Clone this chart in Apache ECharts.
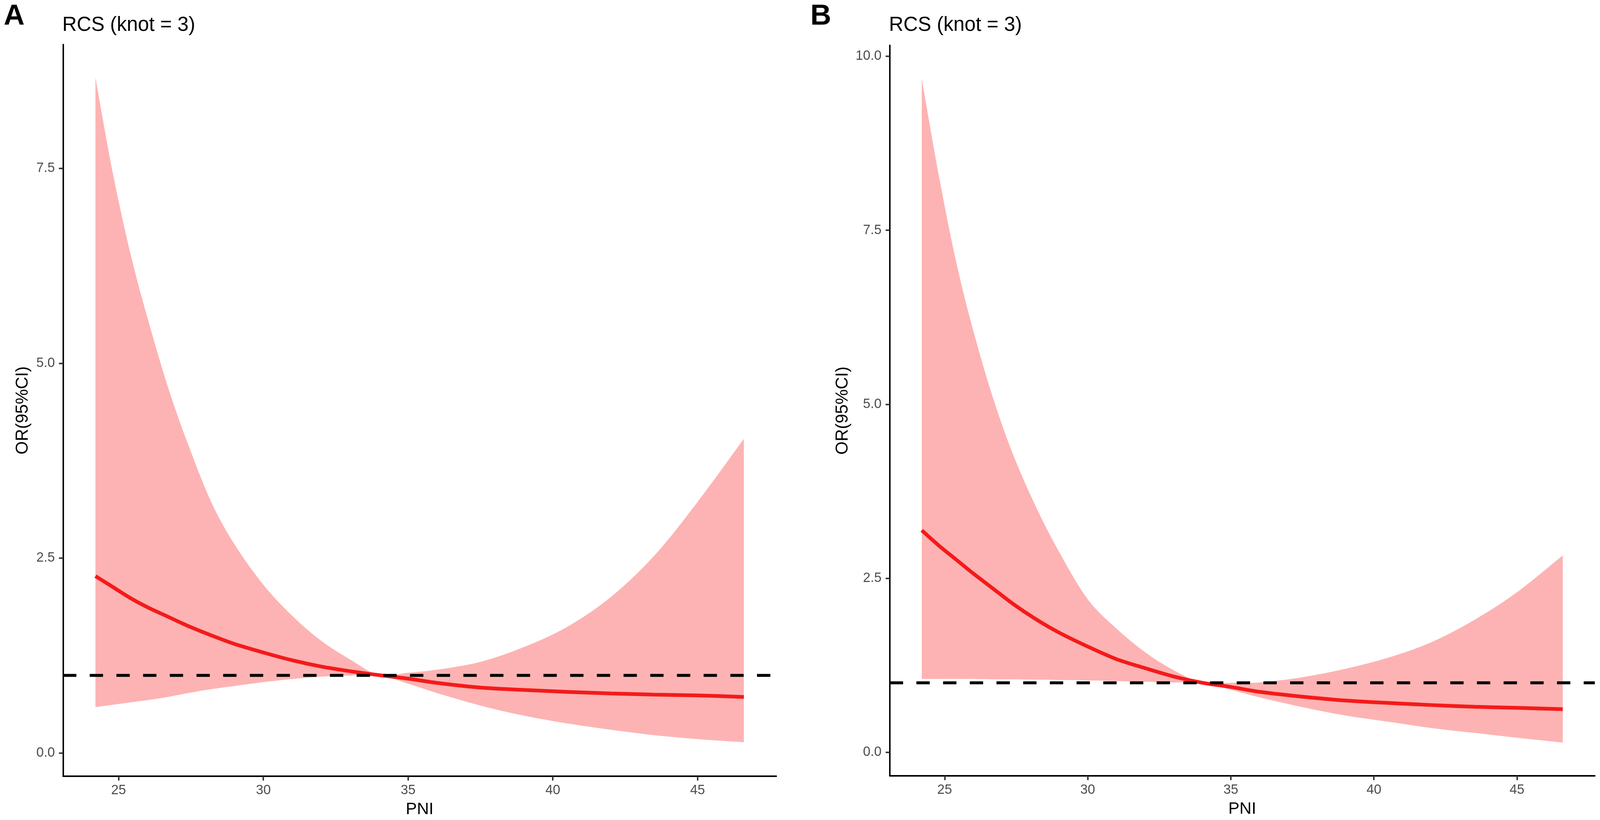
<!DOCTYPE html>
<html lang="en">
<head>
<meta charset="UTF-8">
<title>RCS (knot = 3)</title>
<script src="https://cdn.jsdelivr.net/npm/echarts@6.0.0/dist/echarts.min.js"></script>
<style>
    html, body { margin: 0; padding: 0; background: #fff; width: 100%; height: 100%; overflow: hidden; }
    #main { width: 100vw; height: 100vh; }
</style>
</head>
<body>
<div id="main"></div>
<script>
    var pni = [24.2, 24.8, 25.4, 26.0, 26.7, 27.4, 28.2, 29.0, 30.0, 31.0, 32.0, 33.0, 34.0, 35.0, 36.0, 37.5, 39.0, 40.5, 42.0, 43.5, 45.0, 46.6];

    // panel A
    var orA    = [2.27, 2.13, 1.99, 1.87, 1.75, 1.63, 1.51, 1.40, 1.29, 1.19, 1.11, 1.05, 1.00, 0.955, 0.90, 0.84, 0.81, 0.785, 0.765, 0.75, 0.74, 0.72];
    var upperA = [8.66, 7.44, 6.42, 5.58, 4.70, 3.96, 3.22, 2.68, 2.16, 1.76, 1.44, 1.20, 1.00, 1.03, 1.07, 1.17, 1.36, 1.62, 2.00, 2.53, 3.22, 4.03];
    var lowerA = [0.59, 0.62, 0.65, 0.68, 0.72, 0.77, 0.82, 0.86, 0.91, 0.95, 0.98, 0.995, 1.00, 0.89, 0.77, 0.61, 0.48, 0.38, 0.30, 0.23, 0.18, 0.14];

    // panel B
    var orB    = [3.19, 2.97, 2.77, 2.57, 2.35, 2.13, 1.91, 1.72, 1.52, 1.34, 1.21, 1.09, 1.00, 0.94, 0.87, 0.80, 0.745, 0.71, 0.68, 0.655, 0.64, 0.62];
    var upperB = [9.68, 8.28, 7.05, 6.06, 5.08, 4.27, 3.52, 2.88, 2.20, 1.78, 1.44, 1.18, 1.00, 1.00, 1.005, 1.08, 1.20, 1.36, 1.58, 1.90, 2.30, 2.83];
    var lowerB = [1.055, 1.055, 1.055, 1.055, 1.05, 1.05, 1.045, 1.04, 1.035, 1.025, 1.015, 1.005, 1.00, 0.90, 0.79, 0.65, 0.53, 0.44, 0.35, 0.28, 0.21, 0.14];

    // ticks
    var xTicks  = [25, 30, 35, 40, 45];
    var yTicksA = [0, 2.5, 5, 7.5];
    var yTicksB = [0, 2.5, 5, 7.5, 10];

    var font = "'Liberation Sans', Arial, sans-serif";
    var bandColor = '#FDB3B3';
    var lineColor = '#F51A1A';

    var dom = document.getElementById('main');
    var myChart = echarts.init(dom);

    // layout was measured on a 4316 x 2098 canvas, scale to whatever we got
    var sx = dom.clientWidth / 4316;
    var sy = dom.clientHeight / 2098;
    function px(v) { return v * sx; }
    function py(v) { return v * sy; }

    function xAxisFor(idx) {
        return {
            type: 'value', gridIndex: idx, z: 5,
            min: 23.08, max: 47.72,
            name: 'PNI', nameLocation: 'middle', nameGap: py(64),
            nameTextStyle: { fontSize: px(45), color: '#000', fontFamily: font },
            axisLine: { show: true, onZero: false, lineStyle: { color: '#000', width: px(4) } },
            axisTick: { show: true, length: py(11), customValues: xTicks, lineStyle: { color: '#333', width: px(4) } },
            axisLabel: { customValues: xTicks, fontSize: px(36), color: '#4D4D4D', margin: py(20), fontFamily: font },
            splitLine: { show: false }
        };
    }

    function yAxisFor(idx, min, max, ticks, gap) {
        return {
            type: 'value', gridIndex: idx, z: 5,
            min: min, max: max,
            name: 'OR(95%CI)', nameLocation: 'middle', nameGap: px(gap),
            nameTextStyle: { fontSize: px(46), color: '#000', fontFamily: font },
            axisLine: { show: true, onZero: false, lineStyle: { color: '#000', width: px(4) } },
            axisTick: { show: true, length: px(11), customValues: ticks, lineStyle: { color: '#333', width: px(4) } },
            axisLabel: {
                customValues: ticks, fontSize: px(36), color: '#4D4D4D', margin: px(22), fontFamily: font,
                formatter: function (v) { return v.toFixed(1); }
            },
            splitLine: { show: false }
        };
    }

    // catmull-rom through the pixel points, written as cubic bezier commands
    function curveCmds(p) {
        var s = '';
        for (var i = 0; i < p.length - 1; i++) {
            var p0 = p[i - 1] || p[i], p1 = p[i], p2 = p[i + 1], p3 = p[i + 2] || p[i + 1];
            var c1x = p1[0] + (p2[0] - p0[0]) / 6, c1y = p1[1] + (p2[1] - p0[1]) / 6;
            var c2x = p2[0] - (p3[0] - p1[0]) / 6, c2y = p2[1] - (p3[1] - p1[1]) / 6;
            s += ' C' + c1x + ' ' + c1y + ' ' + c2x + ' ' + c2y + ' ' + p2[0] + ' ' + p2[1];
        }
        return s;
    }

    function panelSeries(idx, orv, up, lo) {
        var orPts = pni.map(function (x, i) { return [x, orv[i]]; });
        return [
            {
                // confidence ribbon between lower and upper bound
                type: 'custom', xAxisIndex: idx, yAxisIndex: idx,
                data: [0], silent: true, z: 1,
                renderItem: function (params, api) {
                    var top = up.map(function (v, i) { return api.coord([pni[i], v]); });
                    var bot = lo.map(function (v, i) { return api.coord([pni[i], v]); }).reverse();
                    var d = 'M' + top[0][0] + ' ' + top[0][1] + curveCmds(top) +
                        ' L' + bot[0][0] + ' ' + bot[0][1] + curveCmds(bot) + ' Z';
                    return {
                        type: 'path',
                        shape: { pathData: d },
                        style: { fill: bandColor, stroke: null }
                    };
                }
            },
            {
                type: 'line', xAxisIndex: idx, yAxisIndex: idx,
                data: orPts, symbol: 'none', smooth: 0.3,
                lineStyle: { color: lineColor, width: px(10) },
                z: 3,
                markLine: {
                    symbol: 'none', silent: true,
                    label: { show: false },
                    lineStyle: { type: [px(36), px(36)], width: px(8), color: '#000' },
                    data: [{ yAxis: 1 }]
                }
            }
        ];
    }

    var option = {
        animation: false,
        backgroundColor: '#fff',
        grid: [
            { left: px(170), top: py(114), width: px(1924), height: py(1872) },
            { left: px(2400), top: py(116), width: px(1902), height: py(1869) }
        ],
        xAxis: [xAxisFor(0), xAxisFor(1)],
        yAxis: [
            yAxisFor(0, -0.2965, 9.0865, yTicksA, 85),
            yAxisFor(1, -0.337, 10.157, yTicksB, 103)
        ],
        graphic: [
            { type: 'text', left: px(10), top: py(6), style: { text: 'A', fontSize: px(78), fontWeight: 900, fontFamily: font, fill: '#000' } },
            { type: 'text', left: px(2186), top: py(6), style: { text: 'B', fontSize: px(78), fontWeight: 900, fontFamily: font, fill: '#000' } },
            { type: 'text', left: px(168), top: py(39), style: { text: 'RCS (knot = 3)', fontSize: px(54), fontFamily: font, fill: '#000' } },
            { type: 'text', left: px(2398), top: py(39), style: { text: 'RCS (knot = 3)', fontSize: px(54), fontFamily: font, fill: '#000' } }
        ],
        series: [].concat(
            panelSeries(0, orA, upperA, lowerA),
            panelSeries(1, orB, upperB, lowerB)
        )
    };

    myChart.setOption(option);
</script>
</body>
</html>
